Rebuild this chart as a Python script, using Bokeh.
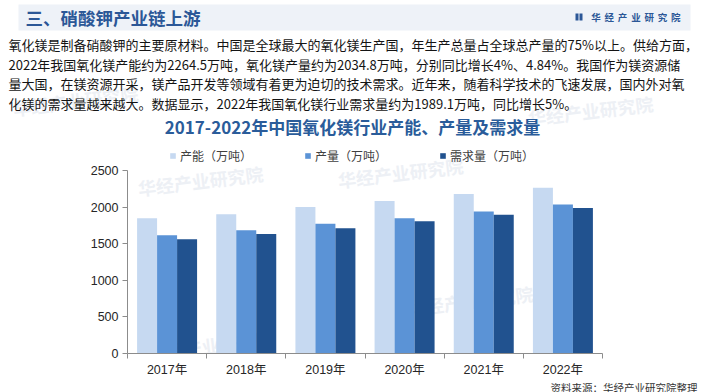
from bokeh.plotting import figure
from bokeh.layouts import column
from bokeh.models import (Range1d, FixedTicker, Label, Legend, LegendItem, Title,
                          ColumnDataSource, LinearAxis)
from bokeh.transform import dodge
from bokeh.embed import file_html
from bokeh.resources import INLINE

# ---------------- data ----------------
years = ["2017年", "2018年", "2019年", "2020年", "2021年", "2022年"]
capacity = [1849, 1904, 2000, 2082, 2177.4, 2264.5]   # 产能（万吨）
output = [1616, 1684, 1771, 1849, 1940.9, 2034.8]     # 产量（万吨）
demand = [1561, 1634, 1712, 1808, 1894.4, 1989.1]     # 需求量（万吨）
series_names = ["产能（万吨）", "产量（万吨）", "需求量（万吨）"]
y_ticks = [0, 500, 1000, 1500, 2000, 2500]

header = "三、硝酸钾产业链上游"
brand = "华经产业研究院"
paragraph = [
    "氧化镁是制备硝酸钾的主要原材料。中国是全球最大的氧化镁生产国，年生产总量占全球总产量的75%以上。供给方面，",
    "2022年我国氧化镁产能约为2264.5万吨，氧化镁产量约为2034.8万吨，分别同比增长4%、4.84%。我国作为镁资源储",
    "量大国，在镁资源开采，镁产品开发等领域有着更为迫切的技术需求。近年来，随着科学技术的飞速发展，国内外对氧",
    "化镁的需求量越来越大。数据显示，2022年我国氧化镁行业需求量约为1989.1万吨，同比增长5%。",
]
title = "2017-2022年中国氧化镁行业产能、产量及需求量"
source_note = "资料来源：华经产业研究院整理"

colors = ["#C6D9F1", "#5B93D6", "#21528F"]
CJK = "Noto Sans CJK SC"
LAT = "Liberation Sans, Noto Sans CJK SC"
WM = "#EDF0F5"
NAVY = "#2B5797"

W = 705
TOP_H = 145          # page y 0 .. 145
FRAME_L, FRAME_R, FRAME_T, FRAME_B = 127, 602, 145, 353
Y_TOP_TICK = 170     # page y of the 2500 tick
NOTE_RIGHT = 697


def lab(text, x, y, size, color, bold=False, align="left", font=CJK, angle=0.0,
        alpha=1.0, level="annotation"):
    return Label(x=x, y=y, text=text, text_font=font, text_font_size=f"{size}px",
                 text_color=color, text_alpha=alpha,
                 text_font_style="bold" if bold else "normal",
                 text_align=align, text_baseline="middle", angle=angle, level=level)


# ---------------- top figure: header, paragraph, title ----------------
top = figure(width=W, height=TOP_H, output_backend="svg", toolbar_location=None,
             title=None, x_range=Range1d(0, W), y_range=Range1d(TOP_H, 0),
             x_axis_type=None, y_axis_type=None,
             min_border_left=0, min_border_right=0, min_border_top=0, min_border_bottom=0,
             frame_align=False)
top.outline_line_color = None
top.background_fill_color = "white"
top.border_fill_color = "white"

top.quad(left=[18], right=[690], top=[4], bottom=[30], fill_color="#EEF2F8", line_color=None)
top.quad(left=[575, 579], right=[578, 582], top=[13, 13], bottom=[20, 20],
         fill_color=NAVY, line_color=None)

for (wx, wy) in [(75, 100), (590, 110)]:
    top.add_layout(lab(brand, wx, wy, 18, WM, bold=True, align="center", angle=0.12,
                       level="underlay"))

top.add_layout(lab(header, 25, 17, 17.5, NAVY, bold=True))
for i, ch in enumerate(brand):
    top.add_layout(lab(ch, 595.5 + i * 13.3, 16, 9.5, NAVY, bold=True, align="center"))
for i, line in enumerate(paragraph):
    top.add_layout(lab(line, 8, 44 + i * 19.6, 13, "#141414"))
top.add_layout(lab(title, 352, 126, 17, "#2A5C9A", bold=True, align="center"))

# ---------------- chart figure ----------------
centers = [i + 0.5 for i in range(len(years))]
src = ColumnDataSource(dict(x=centers, capacity=capacity, output=output, demand=demand))

PX = len(years) / (FRAME_R - FRAME_L)                 # data units per px (x)
PY = y_ticks[-1] / (FRAME_B - Y_TOP_TICK)             # data units per px (y)
y_end = (FRAME_B - FRAME_T) * PY

p = figure(frame_width=FRAME_R - FRAME_L, frame_height=FRAME_B - FRAME_T,
           output_backend="svg", toolbar_location=None, title=None,
           x_range=Range1d(0, len(years)), y_range=Range1d(0, y_end),
           x_axis_type=None, y_axis_type=None,
           min_border_left=FRAME_L, min_border_right=W - FRAME_R,
           min_border_top=0, min_border_bottom=0, frame_align=False)
p.outline_line_color = None
p.background_fill_color = "white"
p.border_fill_color = "white"


def to_data(px, py):
    return (px - FRAME_L) * PX, (FRAME_B - py) * PY


for (wx, wy) in [(200, 180), (400, 172), (210, 345), (470, 300)]:
    dx, dy = to_data(wx, wy)
    p.add_layout(lab(brand, dx, dy, 18, WM, bold=True, align="center", angle=0.12,
                     level="underlay"))

offs = [-0.2526, 0.0, 0.2526]
fields = ["capacity", "output", "demand"]
renderers = []
for f, o, c in zip(fields, offs, colors):
    r = p.vbar(x=dodge("x", o), top=f, width=0.2526, bottom=0, source=src,
               fill_color=c, line_color=None)
    renderers.append(r)

xaxis = LinearAxis(ticker=FixedTicker(ticks=centers, minor_ticks=list(range(len(years) + 1))),
                   major_label_overrides={c: y for c, y in zip(centers, years)})
xaxis.axis_line_color = "#8C8C8C"
xaxis.major_tick_line_color = None
xaxis.major_tick_out = 0
xaxis.major_tick_in = 0
xaxis.minor_tick_line_color = "#8C8C8C"
xaxis.minor_tick_out = 5
xaxis.minor_tick_in = 0
xaxis.major_label_standoff = 4
xaxis.major_label_text_font = LAT
xaxis.major_label_text_font_size = "12.5px"
xaxis.major_label_text_color = "#262626"
p.add_layout(xaxis, "below")

yaxis = LinearAxis(ticker=FixedTicker(ticks=y_ticks, minor_ticks=[]), bounds=(0, y_ticks[-1]))
yaxis.axis_line_color = "#8C8C8C"
yaxis.major_tick_line_color = "#8C8C8C"
yaxis.major_tick_out = 5
yaxis.major_tick_in = 0
yaxis.minor_tick_line_color = None
yaxis.major_label_standoff = 4
yaxis.major_label_text_font = LAT
yaxis.major_label_text_font_size = "12.5px"
yaxis.major_label_text_color = "#262626"
p.add_layout(yaxis, "left")

legend = Legend(items=[LegendItem(label=n, renderers=[r]) for n, r in zip(series_names, renderers)],
                orientation="horizontal", location=(42, 189),
                glyph_width=7, glyph_height=7, label_standoff=4, label_height=14,
                label_text_font=CJK, label_text_font_size="12px",
                label_text_color="#404040", spacing=52, padding=0, margin=0,
                border_line_color=None, background_fill_alpha=0)
p.add_layout(legend)

note = Title(text=source_note, align="right", offset=-(NOTE_RIGHT - FRAME_R), standoff=0,
             text_font=LAT, text_font_size="10.5px", text_font_style="normal",
             text_color="#333333")
p.add_layout(note, "below")

layout = column(top, p, spacing=0)
open("out.html", "w").write(file_html(layout, INLINE))
